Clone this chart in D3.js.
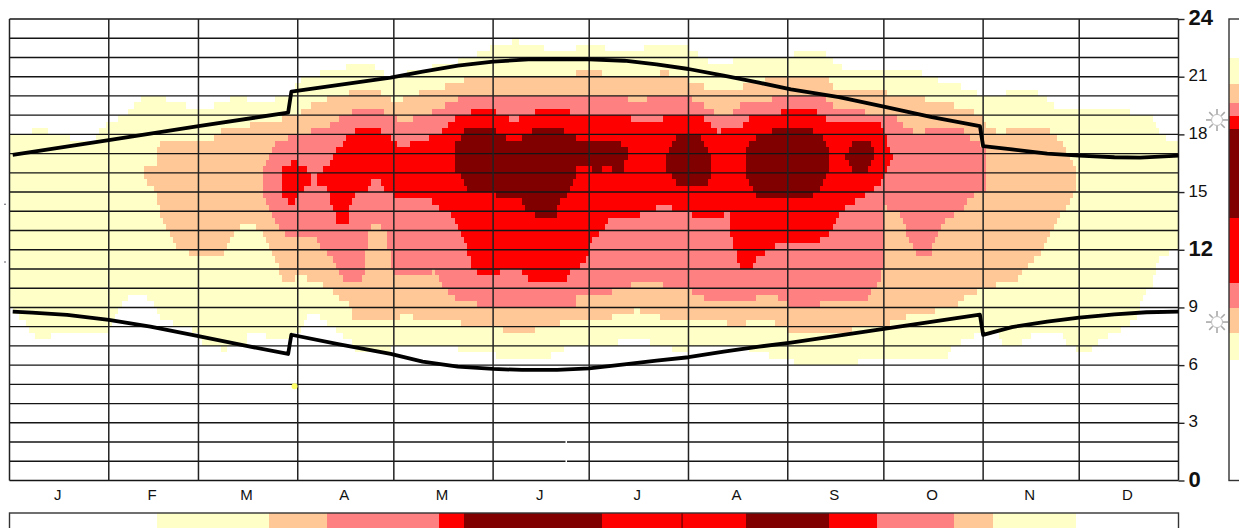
<!DOCTYPE html>
<html>
<head>
<meta charset="utf-8">
<script src="https://cdn.jsdelivr.net/npm/d3@7"></script>
<style>
  body { margin: 0; background: #fff; overflow: hidden; }
  text { font-family: "Liberation Sans", Arial, sans-serif; fill: #111; }
</style>
</head>
<body>
<div id="chart"></div>
<script>
var months = ["J","F","M","A","M","J","J","A","S","O","N","D"];
var monthDays = [0,31,59,90,120,151,181,212,243,273,304,334,365];
var hourTicks = [0,3,6,9,12,15,18,21,24];
var boldHours = [0,12,24];
var levelColors = ["#ffffff","#ffffc8","#ffc896","#ff8080","#ff0000","#800000"];

// sunrise / sunset, [day of year, hour]
var sunset = [[1,16.93],[31,17.7],[59,18.43],[87,19.13],[88,20.22],[119,20.95],[129,21.26],[140,21.57],[151,21.78],[162,21.9],[171,21.92],[181,21.9],[192,21.83],[202,21.64],[212,21.4],[223,21.06],[234,20.69],[244,20.34],[259,19.94],[273,19.44],[288,18.9],[303,18.43],[304,17.39],[313,17.22],[324,17],[334,16.89],[345,16.81],[353,16.79],[365,16.89]];
var sunrise = [[1,8.78],[7,8.73],[18,8.61],[31,8.35],[44,8],[59,7.51],[74,7],[87,6.58],[88,7.58],[103,7.08],[119,6.58],[129,6.18],[140,5.92],[151,5.8],[160,5.75],[171,5.75],[181,5.83],[192,6.04],[202,6.23],[212,6.41],[223,6.7],[234,6.96],[244,7.17],[273,7.88],[303,8.62],[304,7.57],[313,7.98],[324,8.26],[334,8.47],[345,8.64],[355,8.75],[365,8.78]];

// level outlines, [day of year, hour]
var level1 = [[0,18],[7,18],[7,18.33],[12,18.33],[12,18],[19,18],[19,17.67],[27,17.67],[27,18],[29,18.33],[32,18.67],[36,19],[38,19.33],[40,19.67],[43,20],[49,20],[49,19.67],[55,19.67],[55,19.33],[64,19.33],[64,19.67],[69,19.67],[69,20],[74,20],[74,19.67],[83,19.67],[83,20],[87,20],[88,20.33],[92,21],[101,21.33],[110,21.67],[114,21.67],[114,21.33],[120,21],[139,21.8],[143,22],[148,22.33],[152,22.67],[157,22.67],[157,23],[159,23],[159,22.67],[167,22.67],[167,22.33],[177,22.33],[177,22.67],[186,22.67],[186,22.33],[198,22.33],[198,22.67],[212,22.67],[212,22.33],[215,22.33],[215,22],[218,22],[218,21.67],[226,21.67],[226,22],[245,22],[245,22.33],[255,22.33],[255,22],[258,21.67],[262,21.33],[285,21.33],[285,21],[294,20.67],[300,20.33],[304,20],[311,20],[311,20.33],[321,20.33],[321,20],[324,20],[324,19.67],[328,19.33],[350,19.33],[350,19],[356,19],[357,18.67],[359,18],[362,17.67],[365,17.67],[365,12],[360,11.67],[358,11.33],[357,10.33],[355,9.67],[353,9],[351,8.33],[349,8],[341,7.33],[338,7],[338,6.67],[333,6.67],[333,7],[330,7.1],[328,7.67],[319,7.67],[319,7.33],[316,7.33],[316,7],[310,7],[310,7.33],[308,7.67],[304,7.67],[298,7.33],[296,7],[293,6.67],[293,6.33],[265,6.33],[265,6],[245,6],[245,6.33],[237,6.33],[237,6.67],[224,7],[210,6.8],[210,6.67],[207,6.67],[207,7],[200,7],[200,7.33],[190,7.33],[190,7],[173,7],[173,6.67],[169,6.67],[169,6.33],[152,6.33],[152,6.67],[140,6.67],[140,7],[128,7],[117,6.8],[109,6.67],[106,7.33],[103,7.67],[100,8],[96,8.67],[94,8.67],[92,8],[90,7.67],[87,7.33],[80,7.33],[80,7.67],[74,7.67],[74,7],[68,7],[68,6.67],[66,6.67],[66,7],[60,7],[59,7.67],[54,8],[48,8.33],[46,9],[42,9.67],[39,9.67],[35,9.33],[34,8.67],[31,7.67],[13,7.67],[13,7.33],[10,7.33],[7,7.67],[4,8.33],[0,9]];
var level2 = [[42,16.33],[46,16.33],[46,17.33],[48,17.67],[64,17.67],[64,18],[68,18.33],[83,18.67],[88,19],[90,19],[96,19.67],[103,20],[108,20.33],[116,20.33],[116,20],[121,19.67],[128,20.2],[134,20.33],[139,20.67],[145,21],[177,21],[177,21.33],[185,21.33],[185,21],[203,21],[203,21.33],[206,21.33],[206,21],[212,21],[212,20.67],[217,20.67],[217,20.33],[229,20.33],[229,20.67],[243,21],[255,21],[258,20.33],[272,20.33],[277,20],[295,19.67],[295,19.33],[300,19.33],[303,19],[304,18.8],[306,18.33],[311,18],[311,18.33],[324,18.33],[326,17.97],[328,17.67],[331,16.9],[333,16],[333,15.33],[332,14.67],[329,14],[325,13],[322,11.67],[319,11.33],[314,10.4],[310,10.2],[304,10.1],[300,9.67],[297,9.33],[294,9],[284,8.67],[276,8.33],[273,8],[263,8],[263,7.67],[243,7.67],[243,8],[239,8],[239,8.33],[230,8.33],[230,8.1],[224,8.1],[224,8.33],[203,8.33],[203,8.67],[197,8.67],[197,9],[195,9],[195,8.67],[188,8.67],[188,8.33],[172,8.33],[172,8],[164,8],[164,7.67],[154,7.67],[154,8],[141,8],[141,8.33],[126,8.33],[126,8.67],[122,8.67],[122,8.33],[107,8.33],[107,9],[100,10],[97,10.33],[90,10.67],[89,10.33],[85,10.33],[84,11.2],[81,12],[79,12.9],[76,13.33],[73,13.33],[70,13],[68,12],[66,11.67],[56,11.67],[56,12],[52,12.1],[49,13],[47,14],[46,14.67],[46,15],[42,15.67]];
var level3 = [[79,16.33],[80,16.6],[84,17.67],[90,18],[98,18.33],[102,18.67],[105,19],[108,19.33],[117,19.33],[117,19],[120,19],[122,18.67],[128,18.9],[134,19.33],[138,19.67],[142,20],[193,20],[193,19.67],[199,19.67],[199,20],[212,20],[214,19.67],[218,19.4],[222,19],[226,19],[226,19.33],[230,19.67],[238,19.67],[238,20],[254,20],[258,19.4],[262,19.33],[272,19],[276,19],[278,18.67],[282,18.13],[286,18.13],[286,18.33],[297,18.33],[299,18],[301,17.67],[305,17.33],[305,15],[303,15],[300,14.67],[298,14.13],[293,13.67],[291,13],[288,12],[288,11.67],[283,11.67],[283,12],[281,12.5],[279,13.67],[273,14.33],[273,11.33],[271,10.2],[268,9.67],[268,9.33],[253,9.33],[253,9],[244,9],[243,9.33],[240,9.33],[240,9.67],[233,9.67],[233,9.33],[221,9.33],[214,9.67],[212,10],[204,10],[204,10.33],[194,10.33],[194,10],[188,10],[188,9.67],[177,9.67],[177,9],[146,9],[146,9.33],[141,9.33],[138,9.67],[135,10.2],[133,10.9],[128,10.67],[120,10.67],[119,11.33],[118,13],[114,13.33],[112,13],[111,11.33],[110,10.33],[105,10.33],[103,10.67],[102,11.33],[100,11.67],[98,12],[95,12.67],[86,12.67],[85,13],[82,14],[79,14.67]];
var level4 = [[96,16],[99,16.33],[100,16.6],[103,17.33],[105,17.67],[106,18],[109,18.33],[116,18.33],[116,18],[121,17.67],[122,17.33],[128,17.67],[131,17.67],[131,18],[133,18],[136,18.33],[138,18.67],[140,19],[144,19],[144,19.33],[152,19.33],[152,19],[156,19],[156,18.67],[159,18.67],[159,19],[164,19],[164,19.33],[175,19.33],[175,19],[194,19],[194,18.67],[204,18.67],[204,19],[216,19],[218,18.67],[221,18.13],[228,18.33],[230,18.67],[233,19],[241,19],[241,19.33],[252,19.33],[252,19],[255,19],[255,18.67],[271,18.67],[273,18.33],[274,17.67],[276,16.9],[274,16.33],[273,15.67],[269,15],[266,14.67],[262,14.33],[260,14],[258,13.67],[257,13],[255,12.67],[251,12.33],[240,12.33],[237,12],[235,11.67],[232,11.33],[232,11],[228,11],[227,11.67],[226,12],[225,13.33],[225,14],[223,14],[223,13.67],[213,13.67],[212,14],[207,14],[207,14.33],[202,14.33],[202,14],[197,14],[197,13.67],[188,13.67],[187,13.33],[183,12.67],[181,12],[179,11.33],[177,11],[174,10.67],[174,10.33],[163,10.33],[161,10.67],[159,11],[155,11],[152,10.67],[146,10.67],[144,11.33],[143,12],[141,12.67],[140,13.33],[138,13.67],[137,14],[132,14.33],[132,14.67],[121,14.67],[119,15],[116,15.33],[116,15.67],[114,15.67],[113,15.33],[111,15.1],[109,15],[107,14.67],[106,14],[106,13.33],[103,13.33],[102,13.67],[101,14],[100,14.67],[99,15.33],[96,15.33]];
var level4b = [[85,16.33],[88,16.33],[88,16.67],[90,16.67],[90,16.33],[92,16.33],[94,16],[94,15.33],[92,15.33],[91,15],[90,14.67],[89,14.33],[87,14.33],[87,14.67],[85,14.67]];
var level5a = [[139,17.33],[140,17.67],[143,18.33],[152,18.33],[152,18],[155,18],[155,17.67],[160,17.67],[160,18],[163,18],[163,18.33],[173,18.33],[173,18],[177,18],[177,17.67],[191,17.67],[191,17.33],[193,17.33],[193,16.67],[192,16.33],[191,16],[188,16],[188,16.33],[185,16.33],[185,16],[182,16],[182,16.33],[177,16.33],[177,16],[176,15.5],[175,15],[173,14.67],[171,14.2],[171,13.67],[164,13.67],[164,14],[161,14],[161,14.33],[159,14.67],[152,14.67],[152,15],[143,15],[141,15.67],[139,16.33]];
var level5b = [[209,18],[215,18],[217,17.67],[219,16.9],[219,15.67],[217,15.33],[209,15.33],[207,15.67],[205,16.33],[205,16.9],[207,17.67]];
var level5c = [[238,18.33],[250,18.33],[252,18],[255,17.67],[256,17.1],[256,16.33],[255,15.67],[252,15],[250,14.67],[233,14.67],[232,15.33],[230,16],[230,17],[232,17.67],[234,18],[238,18]];
var level5d = [[264,17.67],[268,17.67],[270,17.33],[270,16.67],[268,16],[263,16],[261,16.9],[262,17.33]];

// marginal strips
var stripDays = [0,46,81,99,134,142,185,230,256,271,295,307,333,365];
var stripLevels = [0,1,2,3,4,5,4,5,4,3,2,1,0];
var sideHours = [24,21.97,20.6,19.63,18.95,18.28,13.65,10.27,8.97,7.67,6.27,0];
var sideLevels = [0,1,2,3,4,5,4,3,2,1,0];
var sunHours = [18.75,8.24];
var strayHours = [14.37,11.36];

var width = 1239, height = 528;
var x = d3.scaleLinear().domain([0,365]).range([9.5,1178.5]);
var y = d3.scaleLinear().domain([0,24]).range([480.5,19]);

var svg = d3.select("#chart").append("svg")
    .attr("width", width)
    .attr("height", height)
    .style("display", "block");

// paint the levels as 1 day x 20 minute cells, merging runs along a row
function drawCells(polys, color) {
  var runs = [];
  for (var k = 0; k < 72; k++) {
    var start = null;
    for (var d = 0; d <= 365; d++) {
      var inside = d < 365 && polys.some(function(p) {
        return d3.polygonContains(p, [d + 0.5, (k + 0.5) / 3]);
      });
      if (inside && start === null) start = d;
      if (!inside && start !== null) {
        runs.push({from: start, to: d, row: k});
        start = null;
      }
    }
  }
  svg.append("g")
      .attr("shape-rendering", "crispEdges")
    .selectAll("rect")
      .data(runs)
    .enter().append("rect")
      .attr("x", function(r) { return x(r.from); })
      .attr("width", function(r) { return x(r.to) - x(r.from); })
      .attr("y", function(r) { return y((r.row + 1) / 3); })
      .attr("height", function(r) { return y(r.row / 3) - y((r.row + 1) / 3); })
      .attr("fill", color);
}

drawCells([level1], levelColors[1]);
drawCells([level2], levelColors[2]);
drawCells([level3], levelColors[3]);
drawCells([level4, level4b], levelColors[4]);
drawCells([level5a, level5b, level5c, level5d], levelColors[5]);

// grid
svg.append("g").selectAll("line")
    .data(d3.range(0, 25))
  .enter().append("line")
    .attr("x1", x(0)).attr("x2", x(365))
    .attr("y1", function(h) { return y(h); })
    .attr("y2", function(h) { return y(h); })
    .attr("stroke", "#151515").attr("stroke-width", 1.4);

svg.append("g").selectAll("line")
    .data(monthDays)
  .enter().append("line")
    .attr("x1", function(d) { return x(d); })
    .attr("x2", function(d) { return x(d); })
    .attr("y1", y(24)).attr("y2", y(0))
    .attr("stroke", "#222").attr("stroke-width", 1.5);

// small white nicks in the grid near the end of June
svg.append("g").selectAll("rect")
    .data([1,2])
  .enter().append("rect")
    .attr("x", x(173.6)).attr("width", 1.5)
    .attr("y", function(h) { return y(h) - 2; }).attr("height", 4)
    .attr("fill", "#fff");

// sun lines
var line = d3.line()
    .x(function(d) { return x(d[0]); })
    .y(function(d) { return y(d[1]); });

svg.selectAll("path.sun")
    .data([sunset, sunrise])
  .enter().append("path")
    .attr("class", "sun")
    .attr("d", line)
    .attr("fill", "none")
    .attr("stroke", "#000")
    .attr("stroke-width", 3.8)
    .attr("stroke-linejoin", "round");

// stray yellow dot and two specks left of the frame
svg.append("circle")
    .attr("cx", x(89)).attr("cy", y(4.9)).attr("r", 3)
    .attr("fill", "#ffff66");
svg.append("g").selectAll("circle")
    .data(strayHours)
  .enter().append("circle")
    .attr("cx", x(-1.4)).attr("cy", function(h) { return y(h); }).attr("r", 0.8)
    .attr("fill", "#445");

// hour axis
var yAxis = svg.append("g")
    .attr("transform", "translate(" + x(365) + ",-1.5)")
    .call(d3.axisRight(y).tickValues(hourTicks).tickSize(6).tickPadding(4));
yAxis.select(".domain").remove();
yAxis.selectAll("line")
    .attr("transform", "translate(0,1.5)")
    .attr("stroke", "#222").attr("stroke-width", 1.4);
yAxis.selectAll("text")
    .attr("fill", "#111")
    .style("font-family", '"Liberation Sans", Arial, sans-serif')
    .style("font-size", function(h) { return boldHours.indexOf(h) >= 0 ? "22px" : "17px"; })
    .style("font-weight", function(h) { return boldHours.indexOf(h) >= 0 ? "bold" : "normal"; });

// month axis, labels centred in their month
var xAxis = svg.append("g")
    .attr("transform", "translate(-2," + y(0) + ")")
    .call(d3.axisBottom(x)
      .tickValues(months.map(function(m, i) { return (monthDays[i] + monthDays[i + 1]) / 2; }))
      .tickFormat(function(d, i) { return months[i]; })
      .tickSize(0).tickPadding(9));
xAxis.select(".domain").remove();
xAxis.selectAll("text")
    .attr("fill", "#111")
    .style("font-family", '"Liberation Sans", Arial, sans-serif')
    .style("font-size", "15px");

// bottom strip
var stripTop = 513;
svg.append("g")
      .attr("shape-rendering", "crispEdges")
    .selectAll("rect")
    .data(stripLevels)
  .enter().append("rect")
    .attr("x", function(l, i) { return x(stripDays[i]); })
    .attr("width", function(l, i) { return x(stripDays[i + 1]) - x(stripDays[i]); })
    .attr("y", stripTop).attr("height", height - stripTop)
    .attr("fill", function(l) { return levelColors[l]; });
svg.append("rect")
    .attr("x", x(0)).attr("y", stripTop)
    .attr("width", x(365) - x(0)).attr("height", 40)
    .attr("fill", "none").attr("stroke", "#333").attr("stroke-width", 1.4);
svg.append("line")
    .attr("x1", x(210)).attr("x2", x(210))
    .attr("y1", stripTop).attr("y2", height)
    .attr("stroke", "#800000").attr("stroke-width", 1.5);

// right strip
var sideX = 1229;
svg.append("g")
      .attr("shape-rendering", "crispEdges")
    .selectAll("rect")
    .data(sideLevels)
  .enter().append("rect")
    .attr("x", sideX).attr("width", width - sideX)
    .attr("y", function(l, i) { return y(sideHours[i]); })
    .attr("height", function(l, i) { return y(sideHours[i + 1]) - y(sideHours[i]); })
    .attr("fill", function(l) { return levelColors[l]; });
svg.append("rect")
    .attr("x", sideX).attr("y", y(24))
    .attr("width", 40).attr("height", y(0) - y(24))
    .attr("fill", "none").attr("stroke", "#333").attr("stroke-width", 1.4);

// sun markers
var suns = svg.append("g").selectAll("g")
    .data(sunHours)
  .enter().append("g")
    .attr("transform", function(h) { return "translate(1217," + y(h) + ")"; });
suns.selectAll("line")
    .data(d3.range(0, 8))
  .enter().append("line")
    .attr("x1", function(i) { return 6 * Math.cos(i * Math.PI / 4); })
    .attr("y1", function(i) { return 6 * Math.sin(i * Math.PI / 4); })
    .attr("x2", function(i) { return 11 * Math.cos(i * Math.PI / 4); })
    .attr("y2", function(i) { return 11 * Math.sin(i * Math.PI / 4); })
    .attr("stroke", "#a8a8a8").attr("stroke-width", 1.6);
suns.append("circle")
    .attr("r", 5.5)
    .attr("fill", "#fff").attr("stroke", "#bbb").attr("stroke-width", 1);
</script>
</body>
</html>
